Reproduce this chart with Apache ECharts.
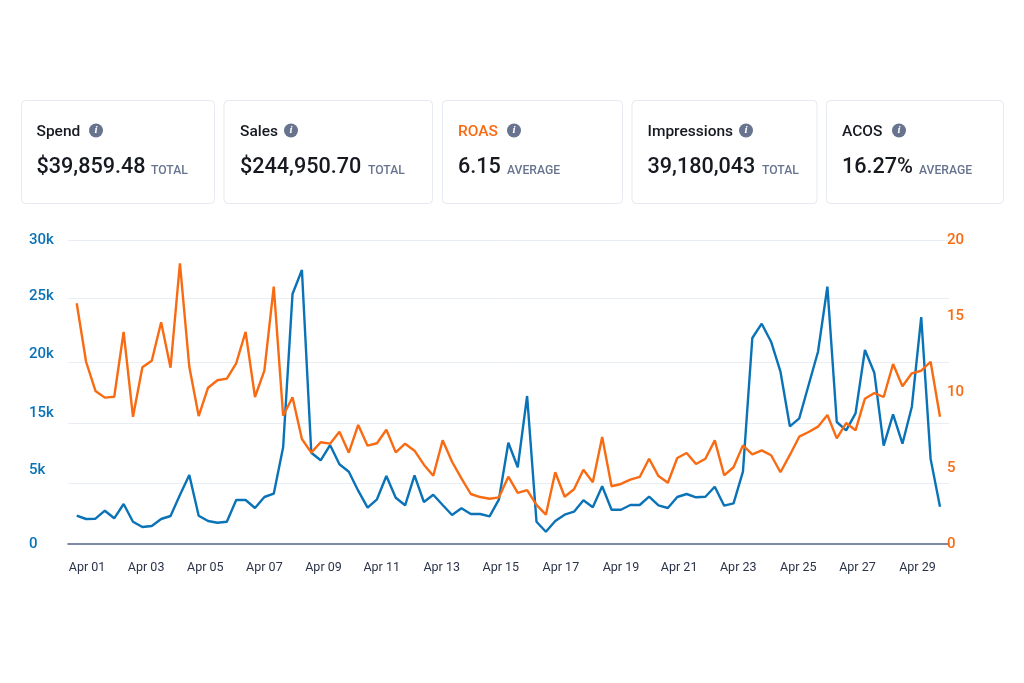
<!DOCTYPE html>
<html>
<head>
<meta charset="utf-8">
<style>html,body{margin:0;padding:0;background:#fff}#c{width:1024px;height:683px}</style>
<script src="https://cdn.jsdelivr.net/npm/echarts@6/dist/echarts.min.js"></script>
</head>
<body>
<div id="c"></div>
<script>
const cardTitles = ['Spend','Sales','ROAS','Impressions','ACOS'];
const cardValues = ['$39,859.48','$244,950.70','6.15','39,180,043','16.27%'];
const cardUnits = ['TOTAL','TOTAL','AVERAGE','TOTAL','AVERAGE'];

const leftTickLabels = ['0','5k','15k','20k','25k','30k'];
const leftTickValues = [0,7300,12900,18700,24400,30000];
const gridValues = [6020,11940,17960,24275,30000];
const rightTickValues = [0,5,10,15,20];
const dateLabels = ['Apr 01','Apr 03','Apr 05','Apr 07','Apr 09','Apr 11','Apr 13','Apr 15','Apr 17','Apr 19','Apr 21','Apr 23','Apr 25','Apr 27','Apr 29'];
const dateIndex = [1.1,7.4,13.7,20,26.3,32.5,38.9,45.2,51.6,58,64.2,70.5,76.9,83.2,89.6];

const spend = [2793,2467,2497,3286,2536,3947,2200,1678,1776,2467,2763,4835,6809,2793,2270,2102,2200,4342,4342,3552,4638,4964,9543,24670,27038,9010,8260,9769,7865,7134,5260,
3582,4411,6710,4569,3819,6779,4145,4865,3849,2862,3523,2960,2960,2733,4411,9996,7569,14605,2200,1214,2270,2891,3187,4312,3622,5694,3385,3385,3849,3849,4668,
3819,3552,4638,4934,4608,4668,5654,3780,4016,7134,20328,21739,19963,17003,11615,12404,15690,18976,25391,12039,11220,12897,19144,16904,9700,12799,9897,13549,22400,8400,3681];
const roas = [15.84,11.99,10.07,9.63,9.69,13.95,8.37,11.63,12.06,14.59,11.6,18.47,11.66,8.42,10.28,10.77,10.88,11.89,13.95,9.67,11.4,16.93,8.44,9.65,6.91,6.01,6.69,6.6,7.39,6.01,7.83,
6.47,6.63,7.52,6.03,6.6,6.14,5.22,4.49,6.82,5.41,4.32,3.29,3.09,2.98,3.07,4.43,3.36,3.55,2.57,1.93,4.72,3.11,3.6,4.89,4.06,7.04,3.8,3.95,4.23,4.41,5.61,
4.47,4.03,5.66,5.99,5.26,5.61,6.82,4.52,5.05,6.49,5.9,6.16,5.84,4.72,5.86,7.06,7.37,7.72,8.49,6.95,7.96,7.48,9.56,9.93,9.67,11.84,10.38,11.23,11.4,11.99,8.37];

const FONT = 'Roboto, "Noto Sans", sans-serif';
const BLUE = '#0a73b7', ORANGE = '#f96b12', SLATE = '#68748f';
const cardEdges = [[21.5,214.5],[224,432.5],[442.5,622.5],[632,817],[826.5,1003.5]];
const titleX = [36.5,240,458,647.5,842];
const iconX = [96,291,514,746,899];
const unitX = [151,368,507,762,919];

const graphics = [];
cardTitles.forEach((t,i)=>{
  graphics.push({type:'rect',silent:true,shape:{x:cardEdges[i][0],y:100.5,width:cardEdges[i][1]-cardEdges[i][0],height:103,r:4},style:{fill:'#fff',stroke:'#e6e9f0',lineWidth:1}});
  graphics.push({type:'text',silent:true,style:{text:t,x:titleX[i],y:132,fill:t==='ROAS'?ORANGE:'#16191f',font:'500 15.5px '+FONT,textVerticalAlign:'middle'}});
  graphics.push({type:'circle',silent:true,shape:{cx:iconX[i],cy:130.5,r:7},style:{fill:SLATE}});
  graphics.push({type:'text',silent:true,style:{text:'i',x:iconX[i],y:130.5,fill:'#fff',font:'italic 700 11px "Liberation Serif", serif',textAlign:'center',textVerticalAlign:'middle'}});
  graphics.push({type:'text',silent:true,style:{text:cardValues[i],x:titleX[i],y:168,fill:'#16191f',font:'500 21.6px '+FONT,textVerticalAlign:'middle'}});
  graphics.push({type:'text',silent:true,style:{text:cardUnits[i],x:unitX[i],y:170.5,fill:SLATE,font:'500 12.2px '+FONT,textVerticalAlign:'middle'}});
});

const chart = echarts.init(document.getElementById('c'),null,{renderer:'canvas'});
chart.setOption({
  animation:false,
  backgroundColor:'#fff',
  graphic:graphics,
  grid:{left:68,top:240,width:881,height:304,containLabel:false},
  xAxis:{type:'value',min:-0.927,max:92.96,splitLine:{show:false},
    axisLine:{show:true,lineStyle:{color:'#4f6487',width:1.5}},
    axisTick:{show:false},
    axisLabel:{customValues:dateIndex,margin:17,color:'#2a3347',fontFamily:FONT,fontSize:12.5,
      formatter:v=>dateLabels[dateIndex.indexOf(v)]}},
  yAxis:[
    {type:'value',min:0,max:30000,axisLine:{show:false},
      axisTick:{show:false,customValues:gridValues},
      splitLine:{show:true,lineStyle:{color:'#e9edf4',width:1}},
      axisLabel:{customValues:leftTickValues,align:'left',margin:39,padding:[4,0,0,0],color:BLUE,fontFamily:FONT,fontWeight:500,fontSize:15,
        formatter:v=>leftTickLabels[leftTickValues.indexOf(v)]}},
    {type:'value',min:0,max:20,interval:5,position:'right',axisLine:{show:false},axisTick:{show:false},splitLine:{show:false},
      axisLabel:{customValues:rightTickValues,align:'left',margin:-2,padding:[4,0,0,0],color:ORANGE,fontFamily:FONT,fontWeight:500,fontSize:15}}
  ],
  series:[
    {type:'line',name:'Spend',yAxisIndex:0,showSymbol:false,smooth:false,lineStyle:{color:BLUE,width:2.4},data:spend.map((v,i)=>[i,v])},
    {type:'line',name:'ROAS',yAxisIndex:1,showSymbol:false,smooth:false,lineStyle:{color:ORANGE,width:2.4},data:roas.map((v,i)=>[i,v])}
  ]
});
</script>
</body>
</html>
